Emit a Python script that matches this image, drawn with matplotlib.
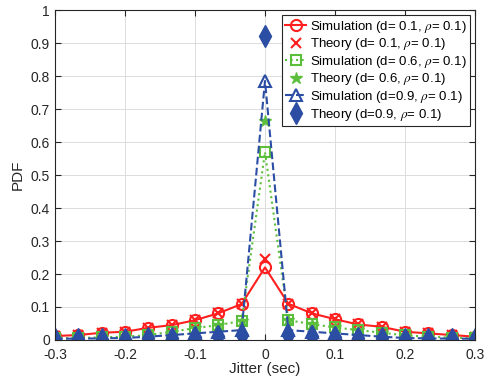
import numpy as np
import matplotlib
matplotlib.use("Agg")
import matplotlib.pyplot as plt

plt.rcParams["font.family"] = ["Liberation Sans", "DejaVu Sans"]
plt.rcParams["mathtext.fontset"] = "stix"

# jitter grid (sec)
jitter = np.linspace(-0.3, 0.3, 19)

sim_d01 = [0.012, 0.015, 0.022, 0.025, 0.037, 0.045, 0.06, 0.081, 0.109, 0.22,
           0.11, 0.081, 0.063, 0.047, 0.04, 0.025, 0.02, 0.015, 0.01]
th_d01 = [0.012, 0.015, 0.022, 0.025, 0.037, 0.045, 0.06, 0.081, 0.109, 0.245,
          0.11, 0.081, 0.063, 0.047, 0.04, 0.025, 0.02, 0.015, 0.01]
sim_d06 = [0.005, 0.006, 0.008, 0.01, 0.015, 0.025, 0.036, 0.045, 0.058, 0.57,
           0.06, 0.048, 0.038, 0.03, 0.022, 0.014, 0.01, 0.007, 0.005]
th_d06 = [0.005, 0.006, 0.008, 0.01, 0.015, 0.025, 0.036, 0.045, 0.058, 0.665,
          0.06, 0.048, 0.038, 0.03, 0.022, 0.014, 0.01, 0.007, 0.005]
sim_d09 = [0.004, 0.004, 0.005, 0.006, 0.01, 0.015, 0.02, 0.025, 0.03, 0.785,
           0.03, 0.025, 0.02, 0.015, 0.01, 0.006, 0.005, 0.004, 0.004]
th_d09 = [0.002, 0.002, 0.003, 0.003, 0.005, 0.007, 0.01, 0.012, 0.015, 0.92,
          0.015, 0.012, 0.01, 0.007, 0.005, 0.003, 0.003, 0.002, 0.002]

RED = "#FF1F1F"
GREEN = "#5CBF3C"
BLUE = "#2B4DA3"

fig = plt.figure(figsize=(4.84, 3.85), dpi=100)
ax = fig.add_axes([0.1136, 0.1169, 0.8678, 0.857])

ax.plot(jitter, sim_d01, "-o", color=RED, lw=1.5, ms=8, mfc="none", mew=1.5,
        label=r"Simulation (d= 0.1, $\rho$= 0.1)")
ax.plot(jitter, th_d01, "x", color=RED, ms=7, mew=1.5,
        label=r"Theory (d= 0.1, $\rho$= 0.1)")
ax.plot(jitter, sim_d06, ":s", color=GREEN, lw=1.5, ms=7, mfc="none", mew=1.5,
        label=r"Simulation (d= 0.6, $\rho$= 0.1)")
ax.plot(jitter, th_d06, "*", color=GREEN, ms=9,
        label=r"Theory (d= 0.6, $\rho$= 0.1)")
ax.plot(jitter, sim_d09, "--^", color=BLUE, lw=1.5, ms=9, mfc="none", mew=1.5,
        label=r"Simulation (d=0.9, $\rho$= 0.1)")
ax.plot(jitter, th_d09, "d", color=BLUE, ms=11,
        label=r"Theory (d=0.9, $\rho$= 0.1)")

ax.set_xlim(-0.3, 0.3)
ax.set_ylim(0, 1)
ax.set_xticks(np.arange(-0.3, 0.31, 0.1))
ax.set_xticklabels(["-0.3", "-0.2", "-0.1", "0", "0.1", "0.2", "0.3"])
ax.set_yticks(np.arange(0, 1.01, 0.1))
ax.set_yticklabels(["0", "0.1", "0.2", "0.3", "0.4", "0.5", "0.6", "0.7",
                    "0.8", "0.9", "1"])
ax.tick_params(direction="in", top=True, right=True, labelsize=10,
               colors="#262626", length=4)
ax.tick_params(axis="x", pad=6)
for s in ax.spines.values():
    s.set_color("#262626")
    s.set_linewidth(0.8)
ax.grid(True, color="#dcdcdc", lw=0.7)
ax.set_axisbelow(True)
ax.set_xlabel("Jitter (sec)", fontsize=11, color="#262626", labelpad=0)
ax.set_ylabel("PDF", fontsize=11, color="#262626")

leg = ax.legend(loc="upper right", fontsize=9.5, frameon=True, fancybox=False,
                edgecolor="#262626", borderaxespad=0.4, handlelength=1.6,
                handletextpad=0.25, labelspacing=0.12, borderpad=0.25,
                framealpha=1)
leg.get_frame().set_linewidth(0.8)

fig.savefig("out.png", dpi=100)
